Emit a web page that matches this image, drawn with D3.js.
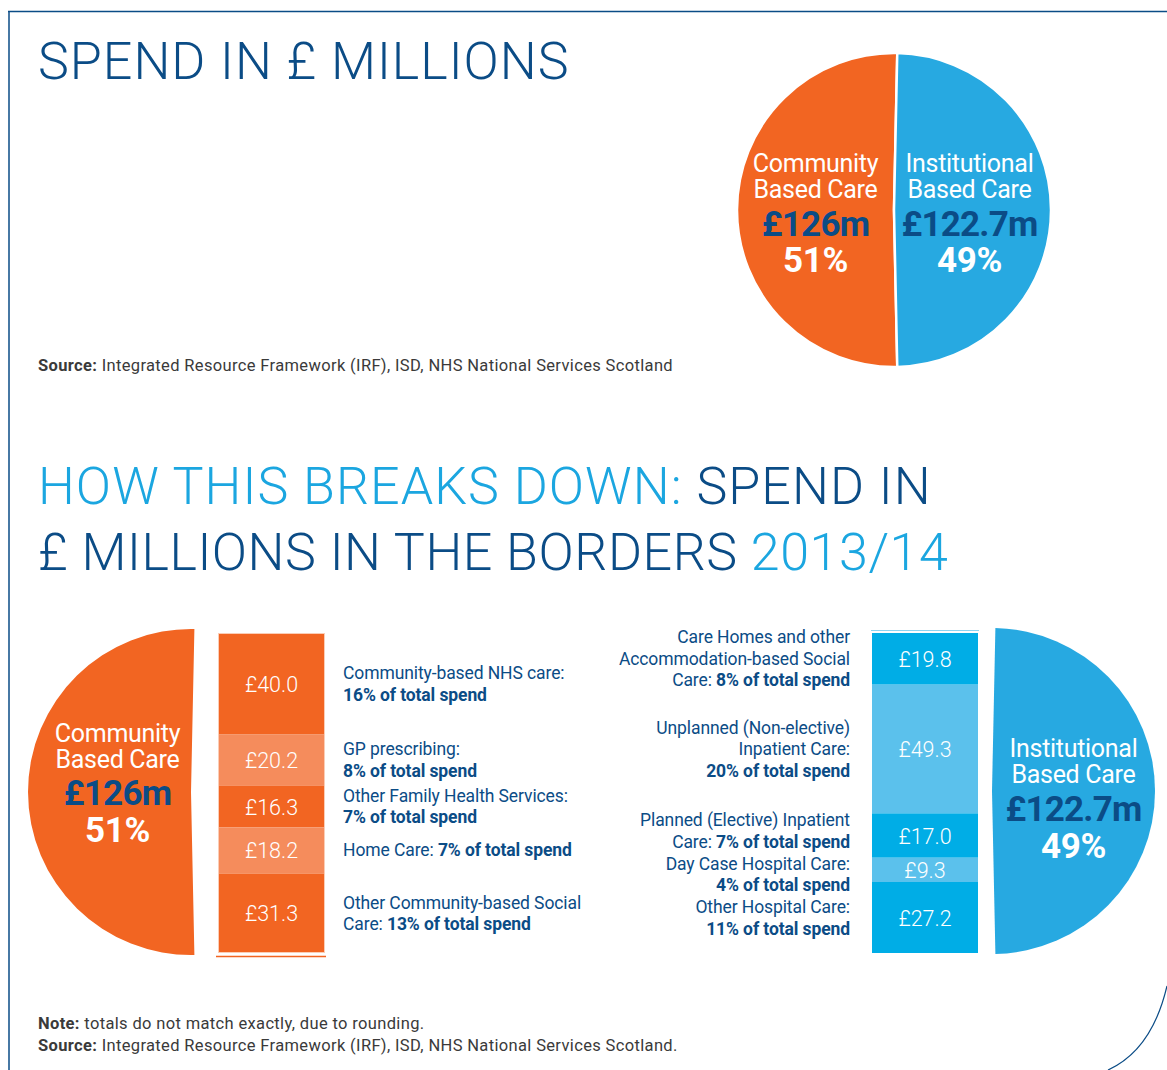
<!DOCTYPE html>
<html>
<head>
<meta charset="utf-8">
<script src="https://cdn.jsdelivr.net/npm/d3@7"></script>
<style>
  body { margin: 0; background: #fff; }
  svg { display: block; }
  text { font-family: Roboto, "Open Sans", sans-serif; }
</style>
</head>
<body>
<svg id="chart" width="1167" height="1070"></svg>
<script>
// totals for the two halves
const groupNames = [["Community", "Based Care"], ["Institutional", "Based Care"]];
const groupTotals = [126.0, 122.7];
const groupAmounts = ["£126m", "£122.7m"];
const groupShares = ["51%", "49%"];

// community based care breakdown
const communityValues = [40.0, 20.2, 16.3, 18.2, 31.3];
const communityShares = ["16%", "8%", "7%", "7%", "13%"];
const communityLabels = [
  ["Community-based NHS care:", "{p}"],
  ["GP prescribing:", "{p}"],
  ["Other Family Health Services:", "{p}"],
  ["Home Care: {p}"],
  ["Other Community-based Social", "Care: {p}"]
];

// institutional based care breakdown
const institutionalValues = [19.8, 49.3, 17.0, 9.3, 27.2];
const institutionalShares = ["8%", "20%", "7%", "4%", "11%"];
const institutionalLabels = [
  ["Care Homes and other", "Accommodation-based Social", "Care: {p}"],
  ["Unplanned (Non-elective)", "Inpatient Care:", "{p}"],
  ["Planned (Elective) Inpatient", "Care: {p}"],
  ["Day Case Hospital Care:", "{p}"],
  ["Other Hospital Care:", "{p}"]
];

const navy = "#0b4c86", sky = "#1ba6e0";
const orange = "#f26522", orangeLight = "#f58c5c";
const bluePie = "#27a9e1", blueBar = "#00ade6", blueLight = "#5bc1ec";
const pieColors = [orange, bluePie];

const svg = d3.select("#chart");

// frame
svg.append("path")
    .attr("d", "M8,11.5H1167M9,11V1070")
    .attr("fill", "none").attr("stroke", navy).attr("stroke-width", 1.5);
svg.append("path")
    .attr("d", "M1167,986Q1152,1050 1108,1070")
    .attr("fill", "none").attr("stroke", navy).attr("stroke-width", 1.2);

// titles
svg.append("text")
    .attr("x", 38).attr("y", 79)
    .attr("font-size", 52).attr("font-weight", 300).attr("letter-spacing", 1)
    .attr("fill", navy)
    .text("SPEND IN £ MILLIONS");

const h2 = svg.append("text")
    .attr("font-size", 52).attr("font-weight", 300);
const l1 = h2.append("tspan").attr("x", 38).attr("y", 504).attr("letter-spacing", 1.05);
l1.append("tspan").attr("fill", sky).text("HOW THIS BREAKS DOWN:");
l1.append("tspan").attr("fill", navy).text(" SPEND IN");
const l2 = h2.append("tspan").attr("x", 38).attr("y", 570).attr("letter-spacing", 0.55);
l2.append("tspan").attr("fill", navy).text("£ MILLIONS IN THE BORDERS ");
l2.append("tspan").attr("fill", sky).text("2013/14");

// pie layout: institutional half centred on the right
const sum = d3.sum(groupTotals);
const a0 = Math.PI / 2 + Math.PI * groupTotals[1] / sum;
const pie = d3.pie().sort(null).startAngle(a0).endAngle(a0 + 2 * Math.PI);
const slices = pie(groupTotals);

function pieText(g, arc, d, i, offs, dx = 0) {
  const cx = arc.centroid(d)[0] + dx;
  const t = g.append("g").attr("text-anchor", "middle");
  groupNames[i].forEach((s, k) => {
    t.append("text").attr("x", cx).attr("y", offs[k])
        .attr("font-size", 25).attr("letter-spacing", -0.3)
        .attr("fill", "#fff").text(s);
  });
  t.append("text").attr("x", cx).attr("y", offs[2])
      .attr("font-size", 35).attr("font-weight", 700).attr("letter-spacing", -0.8)
      .attr("fill", navy).text(groupAmounts[i]);
  t.append("text").attr("x", cx).attr("y", offs[3])
      .attr("font-size", 35).attr("font-weight", 700).attr("letter-spacing", -0.3)
      .attr("fill", "#fff").text(groupShares[i]);
}

// top pie
const topArc = d3.arc().innerRadius(0).outerRadius(157);
const topPie = svg.append("g").attr("transform", "translate(894,210)");
topPie.selectAll("path")
  .data(slices)
  .join("path")
    .attr("d", topArc)
    .attr("fill", (d, i) => pieColors[i])
    .attr("stroke", "#fff").attr("stroke-width", 2.5);
slices.forEach((d, i) => pieText(topPie, topArc, d, i, [-38, -12, 26, 62], i ? -3 : 0));

svg.append("text")
    .attr("x", 38).attr("y", 371)
    .attr("font-size", 16.5).attr("letter-spacing", 0.35)
    .attr("fill", "#3a3a3a")
    .call(t => t.append("tspan").attr("font-weight", 700).text("Source:"))
    .call(t => t.append("tspan").text(" Integrated Resource Framework (IRF), ISD, NHS National Services Scotland"));

// separated halves
const halfArc = d3.arc().innerRadius(0).outerRadius(163);
const leftHalf = svg.append("g").attr("transform", "translate(191,792)");
leftHalf.append("path").attr("d", halfArc(slices[0])).attr("fill", orange);
pieText(leftHalf, halfArc, slices[0], 0, [-50, -24, 13, 50], 8);

const rightHalf = svg.append("g").attr("transform", "translate(992,791)");
rightHalf.append("path").attr("d", halfArc(slices[1])).attr("fill", bluePie);
pieText(rightHalf, halfArc, slices[1], 1, [-34, -8, 30, 67]);

// stacked bars
const barTop = 633, barBottom = 953, lineH = 21.5;

function stackBar(values, x0, w, colors) {
  const y = d3.scaleLinear().domain([0, d3.sum(values)]).range([barTop, barBottom]);
  const ends = Array.from(d3.cumsum(values));
  const segs = values.map((v, i) => ({ v, y0: y(ends[i] - v), y1: y(ends[i]), i }));
  const g = svg.append("g");
  g.selectAll("rect")
    .data(segs)
    .join("rect")
      .attr("x", x0).attr("width", w)
      .attr("y", d => d.y0).attr("height", d => d.y1 - d.y0)
      .attr("fill", d => colors[d.i % 2]);
  g.selectAll("text")
    .data(segs)
    .join("text")
      .attr("x", x0 + w / 2).attr("y", d => (d.y0 + d.y1) / 2 + 8)
      .attr("text-anchor", "middle")
      .attr("font-size", 21.5).attr("font-weight", 300)
      .attr("fill", "#fff")
      .text(d => "£" + d.v.toFixed(1));
  return segs;
}

// push label blocks apart so they do not overlap
function layoutBlocks(segs, labels) {
  const blocks = labels.map((lines, i) => {
    const h = (lines.length - 1) * lineH + 14;
    const c = (segs[i].y0 + segs[i].y1) / 2;
    return { lines, h, top: c - h / 2 };
  });
  for (let it = 0; it < 50; it++) {
    for (let i = 1; i < blocks.length; i++) {
      const a = blocks[i - 1], b = blocks[i];
      const gap = b.top - (a.top + a.h) - 8;
      if (gap < 0) { a.top += gap / 2; b.top -= gap / 2; }
    }
  }
  return blocks;
}

function drawLabels(blocks, shares, x, anchor) {
  const g = svg.append("g").attr("text-anchor", anchor)
      .attr("font-size", 17.5).attr("letter-spacing", -0.1).attr("fill", navy);
  blocks.forEach((b, i) => {
    b.lines.forEach((line, k) => {
      const t = g.append("text").attr("x", x).attr("y", b.top + 13 + k * lineH);
      const parts = line.split("{p}");
      if (parts[0]) t.append("tspan").text(parts[0]);
      if (parts.length > 1) {
        t.append("tspan").attr("font-weight", 700).text(shares[i] + " of total spend");
        if (parts[1]) t.append("tspan").text(parts[1]);
      }
    });
  });
}

const cSegs = stackBar(communityValues, 218, 107, [orange, orangeLight]);
svg.append("rect").attr("x", 218.5).attr("y", barTop + 0.5).attr("width", 106).attr("height", barBottom - barTop - 1)
    .attr("fill", "none").attr("stroke", "#fbcdb6").attr("stroke-width", 1);
svg.append("line").attr("x1", 216).attr("x2", 326).attr("y1", 956.5).attr("y2", 956.5)
    .attr("stroke", orange).attr("stroke-width", 1.5);
drawLabels(layoutBlocks(cSegs, communityLabels), communityShares, 343, "start");

const iSegs = stackBar(institutionalValues, 872, 106, [blueBar, blueLight]);
svg.append("line").attr("x1", 871).attr("x2", 979).attr("y1", 630.5).attr("y2", 630.5)
    .attr("stroke", "#8dd4f2").attr("stroke-width", 1.2);
drawLabels(layoutBlocks(iSegs, institutionalLabels), institutionalShares, 850, "end");

// notes
const notes = svg.append("g").attr("font-size", 16.5).attr("letter-spacing", 0.35).attr("fill", "#3a3a3a");
notes.append("text").attr("x", 38).attr("y", 1029)
    .call(t => t.append("tspan").attr("font-weight", 700).text("Note:"))
    .call(t => t.append("tspan").text(" totals do not match exactly, due to rounding."));
notes.append("text").attr("x", 38).attr("y", 1051)
    .call(t => t.append("tspan").attr("font-weight", 700).text("Source:"))
    .call(t => t.append("tspan").text(" Integrated Resource Framework (IRF), ISD, NHS National Services Scotland."));
</script>
</body>
</html>
